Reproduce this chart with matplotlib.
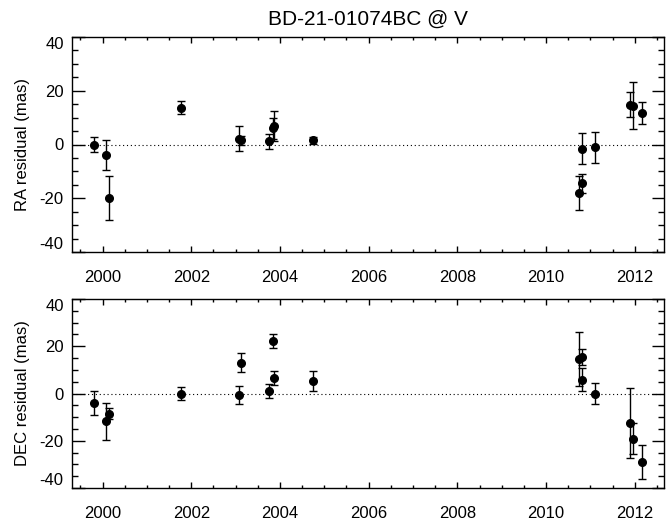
import numpy as np
import matplotlib
matplotlib.use("Agg")
import matplotlib.pyplot as plt
from matplotlib.ticker import MultipleLocator

plt.rcParams['font.family'] = ['Liberation Sans', 'DejaVu Sans']
plt.rcParams['axes.unicode_minus'] = False

# epochs (decimal years), shared by both panels
epoch = [1999.80, 2000.07, 2000.14, 2001.76, 2003.07, 2003.13, 2003.76, 2003.84, 2003.86,
         2004.74, 2010.74, 2010.81, 2010.82, 2011.11, 2011.89, 2011.97, 2012.16]

ra_res = [0.0, -3.9, -19.9, 13.7, 2.1, 1.6, 1.2, 6.0, 7.0,
          1.5, -17.9, -14.4, -1.6, -1.1, 14.8, 14.5, 11.8]
ra_err = [2.7, 5.6, 8.1, 2.4, 4.6, 1.6, 2.7, 4.0, 5.6,
          1.2, 6.3, 3.5, 5.7, 5.7, 4.7, 8.7, 4.0]

dec_res = [-4.0, -11.8, -8.5, 0.0, -0.6, 13.1, 1.1, 22.2, 6.6,
           5.2, 14.6, 15.5, 5.9, -0.1, -12.5, -19.1, -28.9]
dec_err = [5.1, 7.7, 2.2, 2.8, 3.8, 4.2, 2.8, 3.1, 3.1,
           4.2, 11.4, 3.4, 4.8, 4.5, 15.0, 6.6, 7.2]

title = "BD-21-01074BC @ V"

fig = plt.figure(figsize=(6.66, 5.2), dpi=100, facecolor="white")
W, H = 666.0, 520.0
ax1 = fig.add_axes([72/W, 1-252/H, (664-72)/W, (252-37)/H])
ax2 = fig.add_axes([72/W, 1-488/H, (664-72)/W, (488-299)/H])

panels = [(ax1, ra_res, ra_err, "RA residual (mas)"),
          (ax2, dec_res, dec_err, "DEC residual (mas)")]

for ax, res, err, lab in panels:
	ax.axhline(0, color="black", lw=0.8, ls=(0, (1, 2.5)), zorder=1)
	ax.errorbar(epoch, res, yerr=err, fmt="o", color="black", ms=5.5,
		elinewidth=1.0, capsize=3, capthick=1.0, zorder=3)
	ax.set_xlim(1999.31, 2012.66)
	ax.set_ylim(-40, 40)
	ax.xaxis.set_major_locator(MultipleLocator(2))
	ax.xaxis.set_minor_locator(MultipleLocator(0.5))
	ax.yaxis.set_major_locator(MultipleLocator(20))
	ax.yaxis.set_minor_locator(MultipleLocator(5))
	ax.tick_params(axis="both", which="both", direction="in", top=True, right=True,
		labelsize=12, colors="black")
	ax.tick_params(axis="y", which="major", length=9, width=1, pad=6)
	ax.tick_params(axis="y", which="minor", length=4, width=1)
	ax.tick_params(axis="x", which="major", length=4, width=1, pad=13)
	ax.tick_params(axis="x", which="minor", length=2.5, width=1)
	for s in ax.spines.values():
		s.set_linewidth(1.0)
	ax.set_ylabel(lab, fontsize=12, labelpad=7)

ax1.set_title(title, fontsize=15, pad=9)
fig.align_ylabels([ax1, ax2])

# edge labels sit inside the frame, like the original
fig.canvas.draw()
for ax in (ax1, ax2):
	for t in ax.yaxis.get_major_ticks():
		v = t.get_loc()
		if np.isclose(v, 40):
			t.label1.set_va("top")
		elif np.isclose(v, -40):
			t.label1.set_va("bottom")

fig.savefig("out.png", dpi=100)
